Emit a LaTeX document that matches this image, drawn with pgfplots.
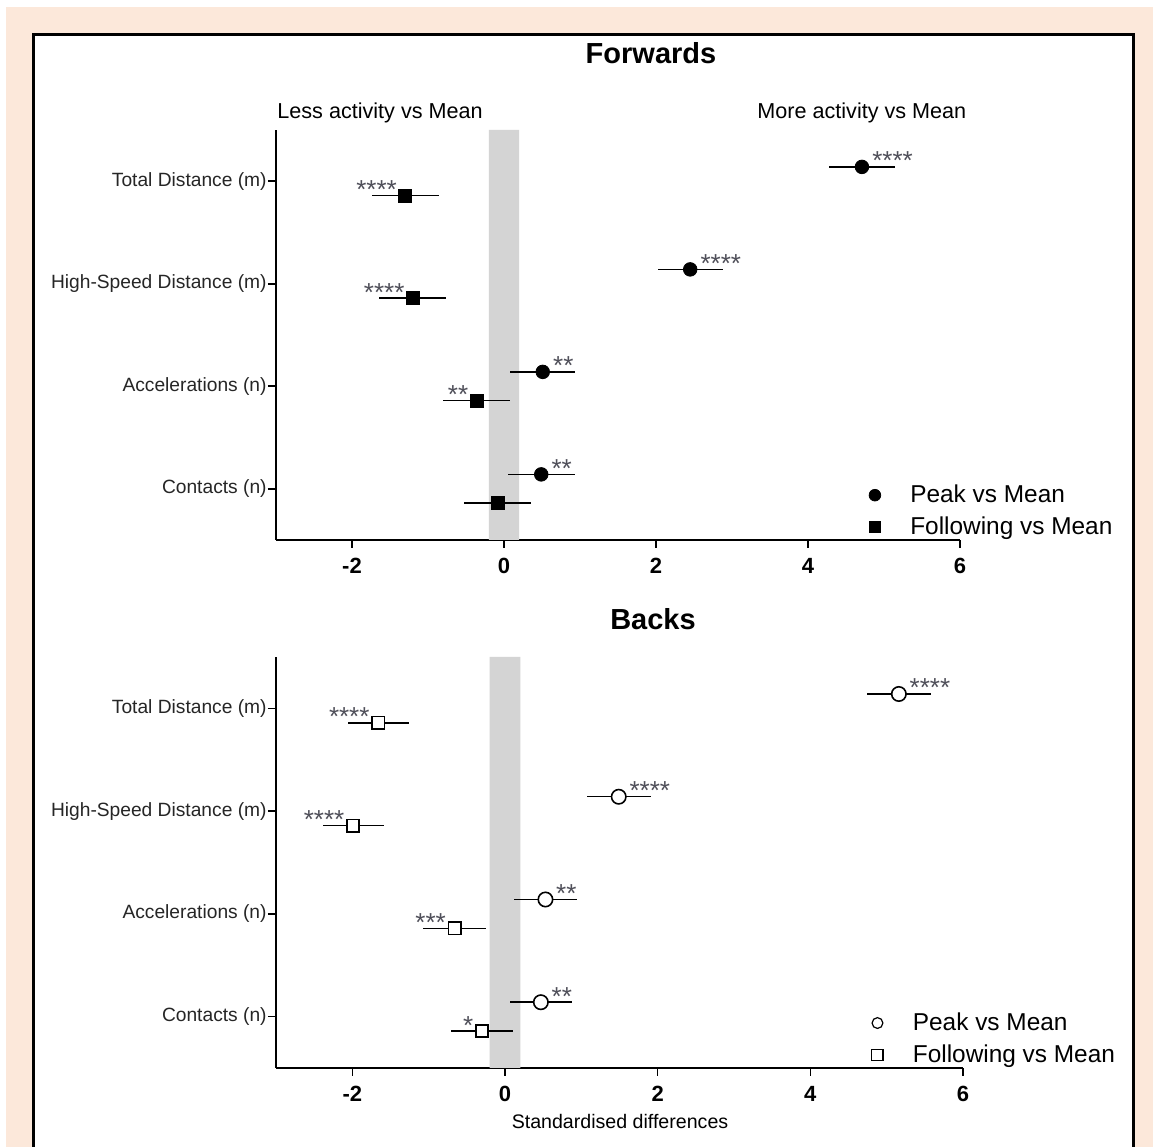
\documentclass[border=0pt]{standalone}
\usepackage{fontspec}
\setmainfont{Liberation Sans}
\usepackage{pgfplots}
\pgfplotsset{compat=1.18}
\definecolor{peach}{RGB}{252,232,218}
\definecolor{band}{RGB}{212,212,212}
\definecolor{stargray}{RGB}{80,80,90}

\pgfplotsset{
  panel/.style={
    scale only axis, clip=false,
    xmin=-3, xmax=6, ymin=0.5, ymax=4.5,
    axis x line*=bottom, axis y line*=left,
    axis line style={line width=0.8pt},
    xtick={-2,0,2,4,6}, xticklabels={-2,0,2,4,6},
    ytick={1,2,3,4},
    yticklabels={Contacts (n),Accelerations (n),High-Speed Distance (m),Total Distance (m)},
    tick align=outside, major tick length=4pt,
    every tick/.style={black, line width=0.8pt},
    x tick label style={font=\bfseries\fontsize{11}{13}\selectfont, yshift=-1.5pt},
    y tick label style={font=\fontsize{9.6}{11}\selectfont, inner sep=0.5pt, text=black!85},
    legend style={draw=none, fill=none, font=\fontsize{12.2}{14}\selectfont,
      at={(0.854,0.155)}, anchor=north west, row sep=1.5pt},
    legend cell align=left,
    legend image code/.code={\draw[##1] plot coordinates {(0pt,0pt)}; \path (-4pt,0pt) (15.5pt,0pt);},
  },
  starsR/.style={nodes near coords, point meta=explicit symbolic,
    every node near coord/.append style={font=\fontsize{13}{13}\selectfont, text=stargray,
      inner sep=0pt, anchor=base west, xshift=5pt, yshift=-1.5pt}},
  starsL/.style={nodes near coords, point meta=explicit symbolic,
    every node near coord/.append style={font=\fontsize{13}{13}\selectfont, text=stargray,
      inner sep=0pt, anchor=base east, xshift=-4pt, yshift=-1.5pt}},
  ebar/.style={error bars/.cd, x dir=both, x explicit, error mark=none,
    error bar style={line width=0.75pt, black}},
}

\begin{document}
\begin{tikzpicture}[x=0.5pt,y=0.5pt]
% background
\fill[white] (0,0) rectangle (1153,1147);
\fill[peach] (6,0) rectangle (1153,1140);
\fill[white] (33,0) rectangle (1133,1112);
\draw[black, line width=1.5pt] (33,0) -- (33,1112) -- (1133,1112) -- (1133,0);

% titles
\node[font=\bfseries\fontsize{14.5}{17}\selectfont, anchor=base, inner sep=0pt] at (651,1083.7) {Forwards};
\node[font=\fontsize{10.8}{13}\selectfont, anchor=base west, inner sep=0pt] at (277,1028.5) {Less activity vs Mean};
\node[font=\fontsize{10.8}{13}\selectfont, anchor=base west, inner sep=0pt] at (757,1028.5) {More activity vs Mean};
\node[font=\bfseries\fontsize{14.5}{17}\selectfont, anchor=base, inner sep=0pt] at (653,517.7) {Backs};
\node[font=\fontsize{9.8}{12}\selectfont, anchor=base, inner sep=0pt] at (620,18) {Standardised differences};

% ===== Forwards =====
\begin{axis}[panel, at={(138pt,303.5pt)}, anchor=south west, width=342pt, height=205pt]
\addplot[fill=band, draw=none, forget plot] coordinates {(-0.2,0.5) (0.2,0.5) (0.2,4.5) (-0.2,4.5)} \closedcycle;
\addplot[black, only marks, mark=*, mark size=3.4pt, forget plot, starsR, ebar]
  table[x=x, y=y, x error=e, meta=s] {
x y e s
4.71 4.14 0.43 ****
2.45 3.14 0.43 ****
0.51 2.14 0.43 **
0.49 1.14 0.44 **
};
\addplot[black, only marks, mark=square*, mark size=3.3pt, forget plot, starsL, ebar]
  table[x=x, y=y, x error=e, meta=s] {
x y e s
-1.30 3.86 0.44 ****
-1.20 2.86 0.44 ****
-0.36 1.86 0.44 **
-0.08 0.86 0.44 {}
};
\addlegendimage{black, only marks, mark=*, mark size=2.9pt}
\addlegendentry{Peak vs Mean}
\addlegendimage{black, only marks, mark=square*, mark size=2.7pt}
\addlegendentry{Following vs Mean}
\end{axis}

% ===== Backs =====
\begin{axis}[panel, at={(138pt,39.5pt)}, anchor=south west, width=343.5pt, height=205.5pt]
\addplot[fill=band, draw=none, forget plot] coordinates {(-0.2,0.5) (0.2,0.5) (0.2,4.5) (-0.2,4.5)} \closedcycle;
\addplot[black, only marks, mark=*, mark size=3.6pt, mark options={fill=white, line width=0.8pt}, forget plot, starsR, ebar]
  table[x=x, y=y, x error=e, meta=s] {
x y e s
5.16 4.14 0.42 ****
1.49 3.14 0.42 ****
0.53 2.14 0.41 **
0.47 1.14 0.41 **
};
\addplot[black, only marks, mark=square*, mark size=3.1pt, mark options={fill=white, line width=0.8pt}, forget plot, starsL, ebar]
  table[x=x, y=y, x error=e, meta=s] {
x y e s
-1.66 3.86 0.40 ****
-1.99 2.86 0.40 ****
-0.66 1.86 0.41 ***
-0.30 0.86 0.41 *
};
\addlegendimage{black, only marks, mark=o, mark size=2.7pt, mark options={line width=0.6pt}}
\addlegendentry{Peak vs Mean}
\addlegendimage{black, only marks, mark=square, mark size=2.8pt, mark options={line width=0.6pt}}
\addlegendentry{Following vs Mean}
\end{axis}

\pgfresetboundingbox
\useasboundingbox (0,0) rectangle (1153,1147);
\end{tikzpicture}
\end{document}
